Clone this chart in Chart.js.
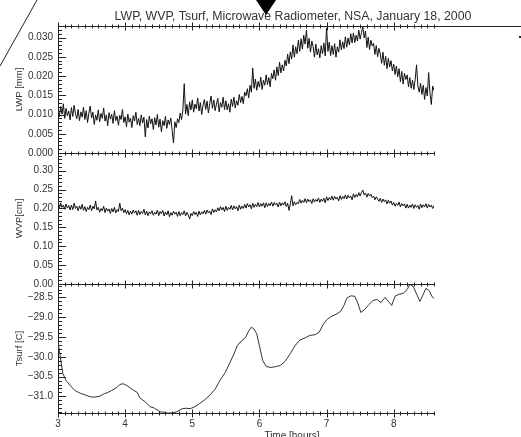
<!DOCTYPE html>
<html>
<head>
<meta charset="utf-8">
<script src="https://cdn.jsdelivr.net/npm/chart.js@4.4.1/dist/chart.umd.min.js"></script>
<style>
  html, body { margin: 0; padding: 0; background: #fff; }
  #wrap { position: relative; width: 521px; height: 437px; }
</style>
</head>
<body>
<div id="wrap"><canvas id="chart-nsa" width="521" height="437"></canvas></div>
<script>
// Microwave radiometer, NSA, 18 Jan 2000: LWP / WVP / Tsurf on one time axis

const FONT = "'Liberation Sans', Arial, sans-serif";

// radiometer samples: start hour and spacing
const T0 = 3.0, DT = 0.02;

// liquid water path [mm], five samples per row = 0.1 h
const lwpMm = [
  0.0112, 0.0094, 0.0121, 0.0101, 0.0128,
  0.0090, 0.0116, 0.0097, 0.0109, 0.0086,
  0.0118, 0.0095, 0.0124, 0.0102, 0.0089,
  0.0113, 0.0084, 0.0107, 0.0093, 0.0119,
  0.0087, 0.0110, 0.0079, 0.0104, 0.0122,
  0.0091, 0.0106, 0.0074, 0.0099, 0.0085,
  0.0112, 0.0081, 0.0103, 0.0090, 0.0117,
  0.0083, 0.0099, 0.0071, 0.0105, 0.0088,
  0.0101, 0.0077, 0.0110, 0.0084, 0.0096,
  0.0072, 0.0098, 0.0087, 0.0113, 0.0079,
  0.0094, 0.0068, 0.0101, 0.0080, 0.0091,
  0.0066, 0.0097, 0.0083, 0.0106, 0.0074,
  0.0090, 0.0071, 0.0099, 0.0078, 0.0093,
  0.0042, 0.0087, 0.0065, 0.0096, 0.0076,
  0.0089, 0.0061, 0.0092, 0.0073, 0.0100,
  0.0067, 0.0088, 0.0055, 0.0084, 0.0071,
  0.0095, 0.0064, 0.0086, 0.0074, 0.0091,
  0.0058, 0.0026, 0.0081, 0.0066, 0.0089,
  0.0079, 0.0104, 0.0087, 0.0112, 0.0180,
  0.0101, 0.0126, 0.0097, 0.0133, 0.0112,
  0.0138, 0.0106, 0.0127, 0.0115, 0.0143,
  0.0109, 0.0131, 0.0100, 0.0124, 0.0139,
  0.0113, 0.0135, 0.0104, 0.0129, 0.0148,
  0.0116, 0.0138, 0.0110, 0.0127, 0.0142,
  0.0107, 0.0131, 0.0119, 0.0145, 0.0113,
  0.0136, 0.0112, 0.0128, 0.0106, 0.0140,
  0.0121, 0.0145, 0.0117, 0.0136, 0.0124,
  0.0152, 0.0131, 0.0147, 0.0128, 0.0158,
  0.0149, 0.0167, 0.0143, 0.0176, 0.0158,
  0.0221, 0.0168, 0.0192, 0.0163, 0.0186,
  0.0171, 0.0197, 0.0165, 0.0189, 0.0176,
  0.0203, 0.0178, 0.0196, 0.0172, 0.0207,
  0.0193, 0.0216, 0.0189, 0.0224, 0.0201,
  0.0236, 0.0208, 0.0229, 0.0213, 0.0241,
  0.0226, 0.0257, 0.0232, 0.0263, 0.0244,
  0.0281, 0.0249, 0.0276, 0.0258, 0.0293,
  0.0264, 0.0297, 0.0270, 0.0306, 0.0283,
  0.0319, 0.0272, 0.0298, 0.0262, 0.0291,
  0.0276, 0.0249, 0.0283, 0.0255, 0.0271,
  0.0247, 0.0279, 0.0258, 0.0286, 0.0252,
  0.0325, 0.0264, 0.0288, 0.0253, 0.0279,
  0.0256, 0.0284, 0.0249, 0.0276, 0.0262,
  0.0294, 0.0268, 0.0289, 0.0271, 0.0302,
  0.0275, 0.0299, 0.0281, 0.0310, 0.0286,
  0.0312, 0.0287, 0.0306, 0.0291, 0.0319,
  0.0296, 0.0313, 0.0328, 0.0299, 0.0317,
  0.0274, 0.0301, 0.0269, 0.0293, 0.0278,
  0.0285, 0.0256, 0.0279, 0.0250, 0.0272,
  0.0257, 0.0233, 0.0262, 0.0228, 0.0251,
  0.0219, 0.0246, 0.0224, 0.0240, 0.0213,
  0.0231, 0.0204, 0.0226, 0.0198, 0.0219,
  0.0185, 0.0212, 0.0179, 0.0207, 0.0191,
  0.0203, 0.0172, 0.0196, 0.0168, 0.0189,
  0.0165, 0.0192, 0.0229, 0.0174, 0.0158,
  0.0181, 0.0152, 0.0176, 0.0139, 0.0170,
  0.0148, 0.0209, 0.0155, 0.0126, 0.0174,
  0.0162
];

// water vapour path [cm], same sampling
const wvpCm = [
  0.211, 0.200, 0.215, 0.203, 0.209,
  0.198, 0.212, 0.201, 0.208, 0.196,
  0.209, 0.197, 0.214, 0.200, 0.206,
  0.194, 0.207, 0.198, 0.211, 0.195,
  0.205, 0.192, 0.203, 0.197, 0.209,
  0.194, 0.206, 0.199, 0.220, 0.196,
  0.203, 0.190, 0.200, 0.194, 0.206,
  0.189, 0.201, 0.193, 0.199, 0.187,
  0.200, 0.191, 0.203, 0.188, 0.197,
  0.192, 0.214, 0.194, 0.201, 0.189,
  0.197, 0.186, 0.195, 0.183, 0.193,
  0.185, 0.196, 0.188, 0.194, 0.182,
  0.195, 0.184, 0.192, 0.187, 0.198,
  0.183, 0.193, 0.181, 0.191, 0.186,
  0.194, 0.182, 0.190, 0.185, 0.196,
  0.181, 0.192, 0.186, 0.195, 0.180,
  0.191, 0.183, 0.194, 0.178, 0.189,
  0.182, 0.193, 0.185, 0.190, 0.179,
  0.192, 0.181, 0.189, 0.184, 0.194,
  0.180, 0.190, 0.183, 0.172, 0.187,
  0.181, 0.192, 0.184, 0.190, 0.179,
  0.193, 0.183, 0.191, 0.186, 0.195,
  0.185, 0.196, 0.188, 0.193, 0.184,
  0.199, 0.189, 0.197, 0.191, 0.202,
  0.194, 0.205, 0.196, 0.203, 0.192,
  0.206, 0.195, 0.203, 0.198, 0.208,
  0.196, 0.207, 0.199, 0.205, 0.194,
  0.209, 0.198, 0.206, 0.200, 0.211,
  0.201, 0.213, 0.204, 0.210, 0.199,
  0.214, 0.203, 0.211, 0.205, 0.216,
  0.204, 0.213, 0.206, 0.215, 0.202,
  0.215, 0.205, 0.213, 0.208, 0.217,
  0.206, 0.216, 0.209, 0.214, 0.204,
  0.217, 0.207, 0.215, 0.209, 0.218,
  0.205, 0.214, 0.195, 0.212, 0.234,
  0.207, 0.218, 0.210, 0.216, 0.213,
  0.224, 0.214, 0.222, 0.216, 0.226,
  0.215, 0.225, 0.218, 0.223, 0.213,
  0.226, 0.217, 0.224, 0.219, 0.228,
  0.216, 0.225, 0.219, 0.227, 0.215,
  0.231, 0.221, 0.229, 0.223, 0.233,
  0.222, 0.232, 0.225, 0.230, 0.220,
  0.234, 0.224, 0.232, 0.226, 0.236,
  0.225, 0.235, 0.228, 0.233, 0.223,
  0.239, 0.229, 0.237, 0.231, 0.242,
  0.233, 0.243, 0.249, 0.236, 0.241,
  0.230, 0.240, 0.233, 0.238, 0.229,
  0.233, 0.223, 0.231, 0.225, 0.219,
  0.227, 0.216, 0.225, 0.218, 0.223,
  0.212, 0.222, 0.214, 0.220, 0.209,
  0.216, 0.206, 0.214, 0.208, 0.217,
  0.204, 0.213, 0.207, 0.212, 0.201,
  0.211, 0.201, 0.209, 0.203, 0.212,
  0.200, 0.210, 0.203, 0.208, 0.198,
  0.212, 0.202, 0.210, 0.204, 0.213,
  0.201, 0.211, 0.204, 0.209, 0.200,
  0.208
];

// surface temperature [C], its own sample times
const tsurfHours = [
  3.00, 3.03, 3.07, 3.12, 3.18, 3.25, 3.33, 3.40, 3.48, 3.55,
  3.63, 3.69, 3.73, 3.80, 3.88, 3.92, 3.97, 4.03, 4.12, 4.18,
  4.22, 4.30, 4.37, 4.44, 4.52, 4.58, 4.62, 4.70, 4.77, 4.85,
  4.91, 4.97, 5.04, 5.11, 5.19, 5.26, 5.34, 5.41, 5.49, 5.56,
  5.62, 5.67, 5.73, 5.79, 5.84, 5.88, 5.92, 5.96, 6.01, 6.05,
  6.10, 6.16, 6.24, 6.31, 6.38, 6.46, 6.53, 6.60, 6.68, 6.75,
  6.83, 6.89, 6.95, 7.01, 7.08, 7.15, 7.21, 7.26, 7.30, 7.36,
  7.42, 7.46, 7.51, 7.57, 7.63, 7.69, 7.75, 7.81, 7.87, 7.93,
  7.97, 8.02, 8.08, 8.14, 8.20, 8.24, 8.29, 8.35, 8.39, 8.44,
  8.48, 8.53, 8.57, 8.60
];
const tsurfC = [
  -29.65, -29.95, -30.41, -30.60, -30.72, -30.85, -30.92, -30.96, -31.01, -31.02,
  -30.99, -30.93, -30.91, -30.85, -30.77, -30.70, -30.68, -30.73, -30.84, -30.90,
  -31.04, -31.14, -31.26, -31.30, -31.39, -31.40, -31.42, -31.42, -31.39, -31.31,
  -31.30, -31.31, -31.26, -31.18, -31.08, -30.97, -30.82, -30.60, -30.40, -30.15,
  -29.93, -29.72, -29.60, -29.52, -29.35, -29.25, -29.30, -29.42, -29.80, -30.10,
  -30.24, -30.27, -30.25, -30.22, -30.12, -29.92, -29.72, -29.58, -29.52, -29.46,
  -29.44, -29.38, -29.18, -29.05, -28.97, -28.92, -28.85, -28.70, -28.52, -28.46,
  -28.47, -28.62, -28.88, -28.80, -28.68, -28.58, -28.55, -28.63, -28.50, -28.62,
  -28.70, -28.47, -28.42, -28.40, -28.30, -28.17, -28.22, -28.45, -28.60, -28.42,
  -28.27, -28.33, -28.48, -28.52
];

// tick labels
const hourTicks  = [3, 4, 5, 6, 7, 8];
const lwpTicks   = [0, 0.005, 0.010, 0.015, 0.020, 0.025, 0.030];
const wvpTicks   = [0, 0.05, 0.10, 0.15, 0.20, 0.25, 0.30];
const tsurfTicks = [-31.0, -30.5, -30.0, -29.5, -29.0, -28.5];

const INK = '#222';
const TEXT = '#333';

function panelAxis(title, min, max, ticks, digits, weight) {
  return {
    type: 'linear',
    position: 'left',
    stack: 'panels',
    stackWeight: weight,
    min, max,
    afterBuildTicks: s => { s.ticks = ticks.map(v => ({ value: v })); },
    afterFit: s => { s.width = 58; },
    grid: { display: false, drawTicks: false },
    border: { display: true, color: INK, width: 1 },
    ticks: {
      autoSkip: false,
      padding: 5,
      color: TEXT,
      font: { family: FONT, size: 10 },
      callback: v => v.toFixed(digits).replace('-', '\u2212'),
    },
    title: {
      display: true,
      text: title,
      color: TEXT,
      padding: { top: 14, bottom: 0 },
      font: { family: FONT, size: 9.5 },
    },
  };
}

// frame rules, axis ticks, titles and the marks above the plot
const panelFrame = {
  id: 'panelFrame',
  afterDraw(chart) {
    const { ctx, chartArea: a, scales } = chart;
    const xs = scales.x;
    const rules = [scales.yLwp.top, scales.yWvp.top, scales.yTs.top, scales.yTs.bottom];

    ctx.save();
    ctx.strokeStyle = INK;
    ctx.lineWidth = 1;

    rules.forEach((y, k) => {
      const yy = Math.round(y) + 0.5;
      ctx.beginPath();
      ctx.moveTo(a.left, yy);
      ctx.lineTo(k === 0 ? chart.width : a.right, yy);
      for (let h = 30; h <= 86; h++) {
        const px = Math.round(xs.getPixelForValue(h / 10)) + 0.5;
        const len = h % 10 === 0 ? 4 : 2;
        ctx.moveTo(px, yy - len);
        ctx.lineTo(px, yy + len);
      }
      ctx.stroke();
    });

    // inward ticks on each panel's value axis
    [[scales.yLwp, 0.001], [scales.yWvp, 0.01], [scales.yTs, 0.1]].forEach(([s, step]) => {
      const k0 = Math.ceil(s.min / step - 1e-6), k1 = Math.floor(s.max / step + 1e-6);
      ctx.beginPath();
      for (let k = k0; k <= k1; k++) {
        const py = Math.round(s.getPixelForValue(k * step)) + 0.5;
        const len = k % 5 === 0 ? 8 : 4;
        ctx.moveTo(a.left, py);
        ctx.lineTo(a.left + len, py);
      }
      ctx.stroke();
    });

    ctx.fillStyle = TEXT;
    ctx.textAlign = 'center';
    ctx.textBaseline = 'middle';
    ctx.font = `12.3px ${FONT}`;
    ctx.fillText('LWP, WVP, Tsurf, Microwave Radiometer, NSA, January 18, 2000', 293, 17);
    ctx.font = `10px ${FONT}`;
    ctx.textBaseline = 'alphabetic';
    ctx.fillText('Time [hours]', 292, 439);

    // slash at the top-left corner, pointer above the title, dot at the right
    ctx.beginPath();
    ctx.moveTo(0, 66);
    ctx.lineTo(37, 0);
    ctx.stroke();
    ctx.fillStyle = '#000';
    ctx.beginPath();
    ctx.moveTo(256, 0);
    ctx.lineTo(276, 0);
    ctx.lineTo(266, 15);
    ctx.closePath();
    ctx.fill();
    ctx.fillStyle = INK;
    ctx.fillRect(519, 36, 2, 2);
    ctx.restore();
  },
};

new Chart(document.getElementById('chart-nsa'), {
  type: 'line',
  data: {
    datasets: [
      {
        data: lwpMm.map((v, i) => ({ x: T0 + i * DT, y: v })),
        yAxisID: 'yLwp',
        borderColor: '#111',
        borderWidth: 1,
        pointRadius: 0,
      },
      {
        data: wvpCm.map((v, i) => ({ x: T0 + i * DT, y: v })),
        yAxisID: 'yWvp',
        borderColor: '#111',
        borderWidth: 1,
        pointRadius: 0,
      },
      {
        data: tsurfC.map((v, i) => ({ x: tsurfHours[i], y: v })),
        yAxisID: 'yTs',
        borderColor: '#333',
        borderWidth: 1,
        pointRadius: 0,
      },
    ],
  },
  options: {
    responsive: false,
    animation: false,
    layout: { padding: { top: 26, right: 87, bottom: 0, left: 0 } },
    plugins: { legend: { display: false }, tooltip: { enabled: false }, title: { display: false } },
    scales: {
      x: {
        type: 'linear',
        position: 'bottom',
        min: 3,
        max: 8.6,
        afterBuildTicks: s => { s.ticks = hourTicks.map(v => ({ value: v })); },
        afterFit: s => { s.height = 24; },
        grid: { display: false, drawTicks: false },
        border: { display: false },
        ticks: { autoSkip: false, maxRotation: 0, padding: 5, color: TEXT, font: { family: FONT, size: 10 } },
      },
      // stacked panels: last one listed sits on top
      yTs:  panelAxis('Tsurf [C]', -31.42, -28.16, tsurfTicks, 1, 129),
      yWvp: panelAxis('WVP[cm]', 0, 0.347, wvpTicks, 2, 131),
      yLwp: panelAxis('LWP [mm]', 0, 0.033, lwpTicks, 3, 127),
    },
  },
  plugins: [panelFrame],
});
</script>
</body>
</html>
